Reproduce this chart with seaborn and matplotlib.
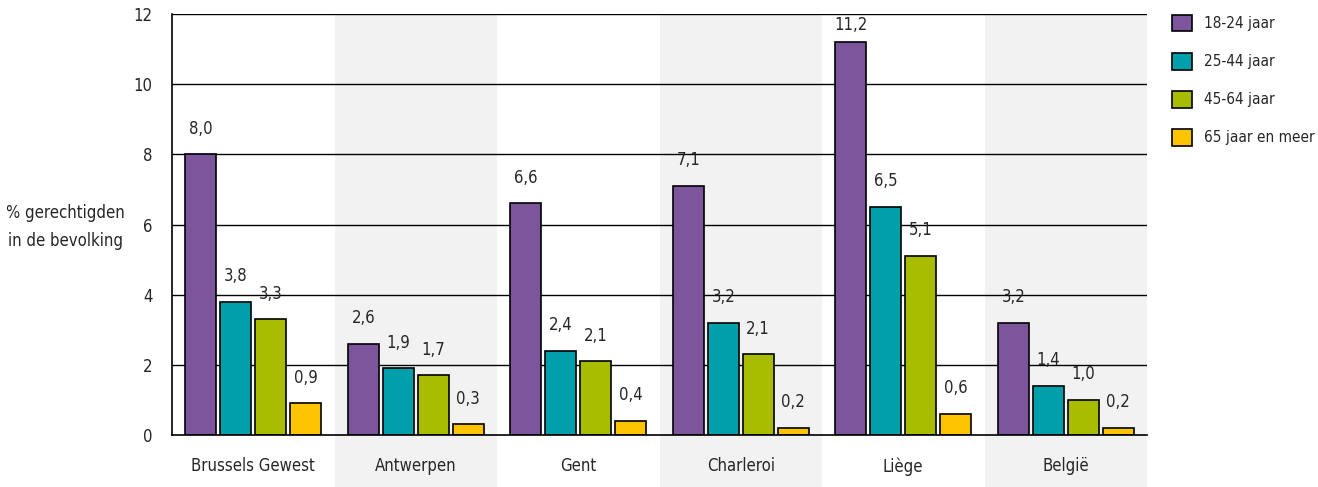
import numpy as np
import pandas as pd
import matplotlib
matplotlib.use("Agg")
import matplotlib.pyplot as plt
import seaborn as sns

# ------------------------------------------------------------------ #
# Data
# ------------------------------------------------------------------ #
regions = ["Brussels Gewest", "Antwerpen", "Gent", "Charleroi", "Liège", "België"]
age_groups = ["18-24 jaar", "25-44 jaar", "45-64 jaar", "65 jaar en meer"]

v_18_24 = [8.0, 2.6, 6.6, 7.1, 11.2, 3.2]
v_25_44 = [3.8, 1.9, 2.4, 3.2, 6.5, 1.4]
v_45_64 = [3.3, 1.7, 2.1, 2.3, 5.1, 1.0]
v_65plus = [0.9, 0.3, 0.4, 0.2, 0.6, 0.2]

# labels as printed in the source (Charleroi 45-64 bar is drawn at ~2.3, label says 2,1)
lab_18_24 = ["8,0", "2,6", "6,6", "7,1", "11,2", "3,2"]
lab_25_44 = ["3,8", "1,9", "2,4", "3,2", "6,5", "1,4"]
lab_45_64 = ["3,3", "1,7", "2,1", "2,1", "5,1", "1,0"]
lab_65plus = ["0,9", "0,3", "0,4", "0,2", "0,6", "0,2"]

colors = ["#7D559C", "#00A0AA", "#A8BD00", "#FFC400"]

series = [v_18_24, v_25_44, v_45_64, v_65plus]
labels = [lab_18_24, lab_25_44, lab_45_64, lab_65plus]

df = pd.DataFrame({
    "regio": np.tile(regions, len(age_groups)),
    "leeftijd": np.repeat(age_groups, len(regions)),
    "waarde": np.concatenate(series),
})

# ------------------------------------------------------------------ #
# Plot
# ------------------------------------------------------------------ #
sns.set_style("white")
plt.rcParams["font.family"] = ["DejaVu Sans"]
plt.rcParams["font.stretch"] = "condensed"

FS = 12

fig = plt.figure(figsize=(13.18, 4.87), dpi=100)
ax = fig.add_axes([172 / 1318, 52 / 487, 975 / 1318, 421 / 487])

# grey bands behind every second group
for i in range(len(regions)):
    if i % 2 == 1:
        ax.axvspan(i - 0.5, i + 0.5, ymin=-52 / 421, ymax=1,
                   color="#F2F2F2", clip_on=False, zorder=0, lw=0)

# gridlines
for y in range(2, 13, 2):
    ax.axhline(y, color="black", lw=1, zorder=1)

sns.barplot(
    data=df, x="regio", y="waarde", hue="leeftijd",
    order=regions, hue_order=age_groups, palette=colors,
    width=0.86, gap=0.12, edgecolor="black", linewidth=1.2,
    saturation=1, ax=ax, zorder=2,
)

# value labels above bars
for cont, labs in zip(ax.containers, labels):
    texts = ax.bar_label(cont, labels=labs, padding=12, fontsize=FS)
    for bar, t in zip(cont, texts):
        # tallest bar: label sits closer so it stays inside the frame
        if bar.get_height() > 11:
            t.xyann = (0, 6)

ax.set_xlim(-0.5, len(regions) - 0.5)
ax.set_ylim(0, 12)
ax.set_yticks(range(0, 13, 2))
ax.tick_params(axis="both", labelsize=FS, length=0)
ax.tick_params(axis="x", pad=16)
ax.tick_params(axis="y", pad=14)
ax.set_xlabel("")
ax.set_ylabel("% gerechtigden\nin de bevolking", fontsize=FS, rotation=0,
              ha="center", va="center", labelpad=0, linespacing=1.7)
ax.yaxis.set_label_coords(-0.109, 0.495)

for s in ["top", "right"]:
    ax.spines[s].set_visible(False)
for s in ["left", "bottom"]:
    ax.spines[s].set_color("black")
    ax.spines[s].set_linewidth(1.2)
    ax.spines[s].set_zorder(3)
ax.set_facecolor("none")

ax.legend(loc="upper left", bbox_to_anchor=(1.0256, 0.998), frameon=False,
          fontsize=11, handlelength=1.3, handleheight=1.3, borderpad=0,
          labelspacing=1.4, handletextpad=0.8, borderaxespad=0)

fig.savefig("out.png", dpi=100)
